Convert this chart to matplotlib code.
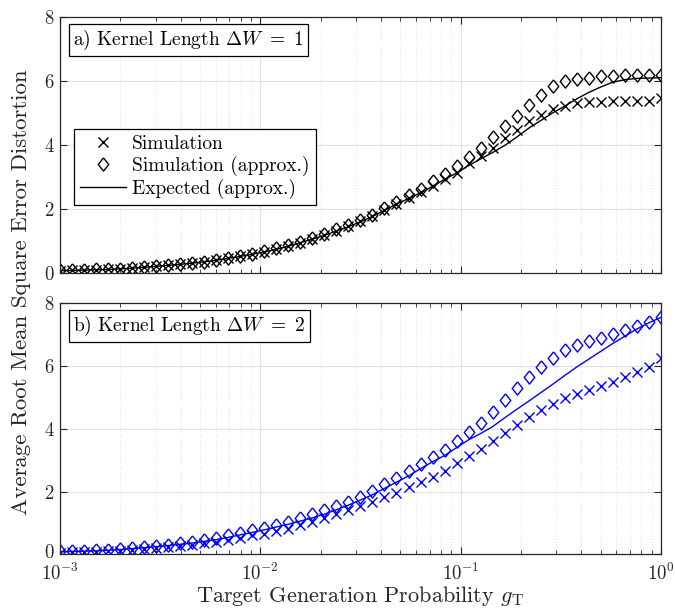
import numpy as np
import matplotlib
matplotlib.use("Agg")
import matplotlib.pyplot as plt
from matplotlib.transforms import ScaledTranslation

plt.rcParams['font.family'] = 'serif'
plt.rcParams['font.serif'] = ['cmr10']
plt.rcParams['mathtext.fontset'] = 'cm'
plt.rcParams['axes.formatter.use_mathtext'] = True
plt.rcParams['axes.unicode_minus'] = False

# target generation probability grid (51 points, 1e-3 .. 1)
g = np.logspace(-3, 0, 51)

# kernel length 1
sim1 = [0.06, 0.07, 0.08, 0.09, 0.10, 0.12, 0.14, 0.17, 0.20, 0.23,
        0.26, 0.30, 0.34, 0.39, 0.45, 0.51, 0.58, 0.65, 0.73, 0.83,
        0.94, 1.06, 1.19, 1.32, 1.46, 1.61, 1.77, 1.95, 2.15, 2.33,
        2.52, 2.72, 2.93, 3.12, 3.43, 3.64, 3.90, 4.21, 4.47, 4.76,
        4.94, 5.12, 5.23, 5.31, 5.34, 5.35, 5.36, 5.36, 5.36, 5.37, 5.47]
approx1 = [0.07, 0.08, 0.09, 0.10, 0.11, 0.13, 0.15, 0.18, 0.21, 0.24,
           0.27, 0.31, 0.35, 0.40, 0.47, 0.53, 0.60, 0.67, 0.76, 0.86,
           0.97, 1.09, 1.22, 1.36, 1.50, 1.65, 1.82, 2.02, 2.22, 2.43,
           2.62, 2.86, 3.10, 3.34, 3.62, 3.90, 4.24, 4.58, 4.91, 5.26,
           5.57, 5.83, 5.99, 6.06, 6.10, 6.14, 6.15, 6.18, 6.19, 6.20, 6.20]
expected1 = [0.06, 0.07, 0.08, 0.09, 0.10, 0.12, 0.14, 0.17, 0.20, 0.23,
             0.26, 0.30, 0.34, 0.39, 0.45, 0.51, 0.58, 0.65, 0.73, 0.83,
             0.94, 1.05, 1.17, 1.30, 1.44, 1.59, 1.76, 1.95, 2.15, 2.32,
             2.50, 2.70, 2.92, 3.12, 3.35, 3.56, 3.76, 3.98, 4.24, 4.52,
             4.76, 5.00, 5.21, 5.44, 5.64, 5.81, 5.96, 6.04, 6.08, 6.09, 6.10]

# kernel length 2
sim2 = [0.05, 0.06, 0.07, 0.08, 0.10, 0.12, 0.14, 0.17, 0.20, 0.23,
        0.27, 0.31, 0.35, 0.40, 0.46, 0.53, 0.60, 0.66, 0.73, 0.82,
        0.92, 1.03, 1.15, 1.28, 1.42, 1.55, 1.68, 1.83, 1.97, 2.14,
        2.31, 2.48, 2.67, 2.90, 3.13, 3.36, 3.62, 3.87, 4.12, 4.38,
        4.60, 4.79, 4.97, 5.11, 5.23, 5.36, 5.50, 5.66, 5.82, 5.97, 6.27]
approx2 = [0.09, 0.10, 0.11, 0.13, 0.15, 0.18, 0.21, 0.24, 0.27, 0.31,
           0.35, 0.40, 0.46, 0.52, 0.60, 0.67, 0.76, 0.84, 0.93, 1.04,
           1.15, 1.27, 1.41, 1.54, 1.68, 1.83, 2.03, 2.24, 2.44, 2.66,
           2.87, 3.10, 3.34, 3.62, 3.90, 4.19, 4.54, 4.91, 5.29, 5.64,
           5.97, 6.27, 6.51, 6.67, 6.80, 6.90, 7.02, 7.14, 7.28, 7.40, 7.57]
expected2 = [0.08, 0.09, 0.10, 0.11, 0.13, 0.15, 0.18, 0.21, 0.24, 0.28,
             0.32, 0.36, 0.41, 0.47, 0.54, 0.62, 0.70, 0.78, 0.87, 0.96,
             1.06, 1.16, 1.28, 1.42, 1.57, 1.73, 1.90, 2.10, 2.30, 2.50,
             2.73, 2.95, 3.15, 3.40, 3.65, 3.85, 4.07, 4.35, 4.62, 4.88,
             5.15, 5.42, 5.70, 5.97, 6.22, 6.47, 6.72, 6.95, 7.18, 7.38, 7.55]

panels = [
    (sim1, approx1, expected1, 'black', r'a) Kernel Length $\Delta W\ =\ 1$'),
    (sim2, approx2, expected2, 'blue', r'b) Kernel Length $\Delta W\ =\ 2$'),
]

# MATLAB-ish diamond, a bit taller than wide
diamond = [(0, 1), (0.8, 0), (0, -1), (-0.8, 0), (0, 1)]
dark = '#262626'
x_ms, d_ms = 7.5, 9.5

fig = plt.figure(figsize=(6.75, 6.08), dpi=100)
ax_top = fig.add_axes([0.089, 0.5515, 0.890, 0.4205])
ax_bot = fig.add_axes([0.089, 0.0883, 0.890, 0.4128])

for ax, (sim, approx, expected, color, title) in zip([ax_top, ax_bot], panels):
    ax.plot(g, sim, linestyle='none', marker='x', ms=x_ms, mew=1.0,
            color=color, label='Simulation')
    ax.plot(g, approx, linestyle='none', marker=diamond, ms=d_ms, mew=1.0,
            mfc='none', color=color, label='Simulation (approx.)')
    ax.plot(g, expected, '-', lw=1.0, color=color, label='Expected (approx.)')

    ax.set_xscale('log')
    ax.set_xlim(1e-3, 1)
    ax.set_ylim(0, 8)
    ax.set_yticks([0, 2, 4, 6, 8])
    ax.grid(True, which='major', color='#e0e0e0', lw=0.8, ls='-')
    ax.grid(True, which='minor', axis='x', color='#d0d0d0', lw=0.6, ls=(0, (1, 2.5)))
    ax.set_axisbelow(True)
    ax.tick_params(which='both', direction='in', top=True, right=True,
                   colors=dark, labelsize=13.5)
    ax.tick_params(which='major', length=5, pad=4)
    ax.tick_params(axis='x', which='major', pad=6.5)
    ax.tick_params(which='minor', length=3)
    for s in ax.spines.values():
        s.set_color(dark)
        s.set_linewidth(0.9)

    ax.text(0.022, 0.955, title, transform=ax.transAxes, ha='left', va='top',
            fontsize=14, color='black',
            bbox=dict(boxstyle='square,pad=0.22', fc='white', ec='black', lw=0.9))

ax_top.tick_params(axis='x', which='both', labelbottom=False)

# lift the bottom "0" a touch so it clears the 10^-3 label
zero = ax_bot.get_yticklabels()[0]
zero.set_transform(zero.get_transform() + ScaledTranslation(0, 2.5 / 72, fig.dpi_scale_trans))

# legend drawn with black handles regardless of panel colour
handles = [
    plt.Line2D([], [], linestyle='none', marker='x', ms=x_ms, mew=1.0, color='black'),
    plt.Line2D([], [], linestyle='none', marker=diamond, ms=d_ms, mew=1.0,
               mfc='none', color='black'),
    plt.Line2D([], [], lw=1.0, color='black'),
]
leg = ax_top.legend(handles, ['Simulation', 'Simulation (approx.)', 'Expected (approx.)'],
                    loc='lower left', bbox_to_anchor=(0.023, 0.265), fontsize=14,
                    fancybox=False, framealpha=1, edgecolor='black',
                    borderpad=0.3, labelspacing=0.15, handlelength=2.4,
                    handletextpad=0.3, borderaxespad=0)
leg.get_frame().set_linewidth(0.9)

ax_bot.set_xlabel(r'Target Generation Probability $g_\mathrm{T}$', fontsize=16,
                  color=dark, labelpad=0)
fig.text(0.032, 0.52, 'Average Root Mean Square Error Distortion', rotation=90,
         ha='center', va='center', fontsize=16.5, color=dark)

fig.savefig('out.png', dpi=100)
